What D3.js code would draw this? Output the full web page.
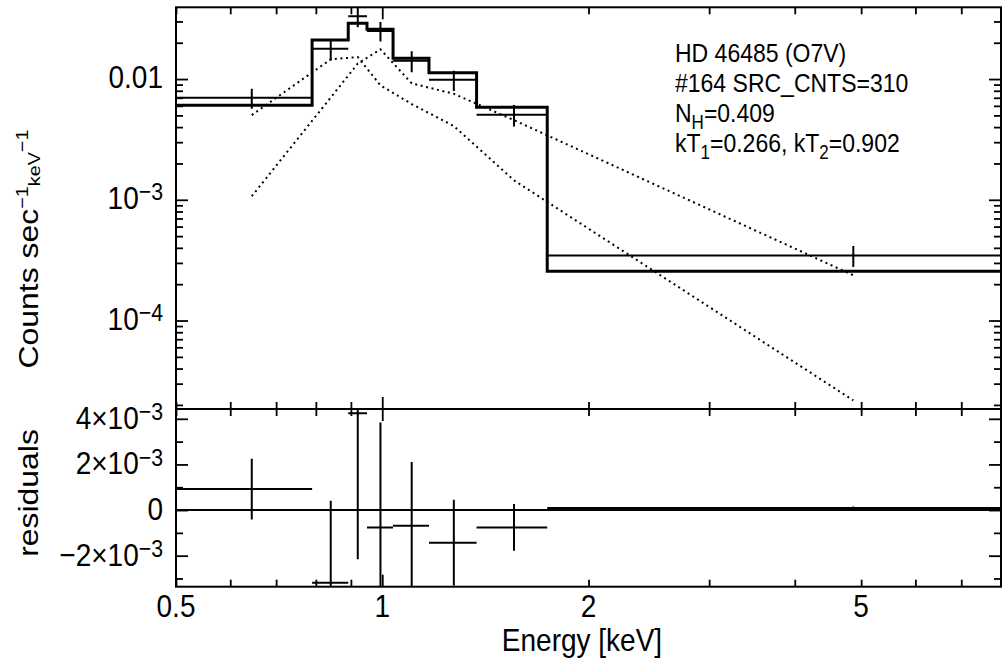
<!DOCTYPE html>
<html>
<head>
<meta charset="utf-8">
<script src="https://cdn.jsdelivr.net/npm/d3@7"></script>
<style>
  body { margin: 0; background: #fff; }
  text { font-family: "Liberation Sans", Arial, sans-serif; fill: #000; }
</style>
</head>
<body>
<div id="chart"></div>
<script>
// spectral bins [keV]
const binLo  = [0.5, 0.79, 0.892, 0.95, 1.037, 1.17, 1.373, 1.741];
const binHi  = [0.79, 0.892, 0.95, 1.037, 1.17, 1.373, 1.741, 8.0];
const binMid = [0.645, 0.841, 0.921, 0.994, 1.104, 1.272, 1.557, 4.87];

// counts sec^-1 keV^-1
const dataRate  = [0.0070, 0.01786, 0.0332, 0.02504, 0.01417, 0.00985, 0.00507, 3.46e-4];
const dataErr   = [1.33e-3, 3.6e-3, 6.4e-3, 4.6e-3, 2.8e-3, 1.88e-3, 1.02e-3, 0.068e-3];
const modelRate = [0.00608, 0.02105, 0.0290, 0.0258, 0.01486, 0.01128, 0.00583, 2.56e-4];
const compCool  = [5.03e-3, 1.457e-2, 1.52e-2, 8.87e-3, 6.21e-3, 4.08e-3, 1.45e-3, 2.18e-5];
const compHot   = [1.071e-3, 7.03e-3, 1.344e-2, 1.763e-2, 9.21e-3, 7.55e-3, 4.57e-3, 2.37e-4];
const resid     = [0.92e-3, -3.19e-3, 4.24e-3, -0.76e-3, -0.69e-3, -1.43e-3, -0.76e-3, 0.09e-3];

// tick labels
const energyLabels = [0.5, 1, 2, 5];
const rateTicks    = [0.01, 1e-3, 1e-4];
const rateText     = ['0.01', '10^−3', '10^−4'];
const residTicks   = [4e-3, 2e-3, 0, -2e-3];
const residText    = ['4×10^−3', '2×10^−3', '0', '−2×10^−3'];

// annotation: [text, level]  level -1 = subscript
const noteLines = [
  [['HD 46485 (O7V)', 0]],
  [['#164 SRC_CNTS=310', 0]],
  [['N', 0], ['H', -1], ['=0.409', 0]],
  [['kT', 0], ['1', -1], ['=0.266, kT', 0], ['2', -1], ['=0.902', 0]]
];

const width = 1002, height = 664;
const L = 176, R = 1001, T = 7.3, MID = 409, B = 586.7;
const STRETCH = 1.14;   // text in the original is a bit tall
const FS = 28;

const x  = d3.scaleLog().domain([0.5, 8.0]).range([L, R]);
const y  = d3.scaleLog().domain([1.85e-5, 0.0393]).range([MID, T]);
const yr = d3.scaleLinear().domain([-3.36e-3, 4.43e-3]).range([B, MID]);

const svg = d3.select('#chart')
  .append('svg')
    .attr('width', width)
    .attr('height', height);

const defs = svg.append('defs');
defs.append('clipPath').attr('id', 'clipTop')
  .append('rect').attr('x', L).attr('y', T).attr('width', R - L).attr('height', MID - T);
defs.append('clipPath').attr('id', 'clipRes')
  .append('rect').attr('x', L).attr('y', MID).attr('width', R - L).attr('height', B - MID);

const upper = svg.append('g').attr('clip-path', 'url(#clipTop)');
const lower = svg.append('g').attr('clip-path', 'url(#clipRes)');

// model components (dotted)
const compLine = d3.line().x((d, i) => x(binMid[i])).y(d => y(d));
[compCool, compHot].forEach(c => {
  upper.append('path')
    .attr('d', compLine(c))
    .attr('fill', 'none')
    .attr('stroke', '#000')
    .attr('stroke-width', 2)
    .attr('stroke-dasharray', '2,3.6');
});

// model step
const stepPts = [];
binLo.forEach((lo, i) => { stepPts.push([lo, modelRate[i]], [binHi[i], modelRate[i]]); });
upper.append('path')
  .attr('d', d3.line().x(d => x(d[0])).y(d => y(d[1]))(stepPts))
  .attr('fill', 'none')
  .attr('stroke', '#000')
  .attr('stroke-width', 3);

// data crosses
const cross = (g, ys, v, e) => {
  binLo.forEach((lo, i) => {
    g.append('line')
      .attr('x1', x(lo)).attr('x2', x(binHi[i]))
      .attr('y1', ys(v[i])).attr('y2', ys(v[i]));
    g.append('line')
      .attr('x1', x(binMid[i])).attr('x2', x(binMid[i]))
      .attr('y1', ys(v[i] - e[i])).attr('y2', ys(v[i] + e[i]));
  });
  g.selectAll('line').attr('stroke', '#000').attr('stroke-width', 2);
};
cross(upper.append('g'), y, dataRate, dataErr);

// residuals: zero model line + crosses
lower.append('line')
  .attr('x1', L).attr('x2', R)
  .attr('y1', yr(0)).attr('y2', yr(0))
  .attr('stroke', '#000').attr('stroke-width', 2);
cross(lower.append('g'), yr, resid, dataErr);

// ticks
const isMajorLog = v => Math.abs(Math.log10(v) - Math.round(Math.log10(v))) < 1e-6;
const isMajorRes = v => Math.abs(Math.round(v * 1e3) % 2) === 0;

const tickSet = (axisFn, scale, vals, pos, isMajor) => {
  [[vals.filter(isMajor), 12], [vals.filter(v => !isMajor(v)), 7]].forEach(([tv, size]) => {
    const g = svg.append('g')
      .attr('transform', pos)
      .call(axisFn(scale).tickValues(tv).tickSize(size).tickFormat(''));
    g.select('.domain').remove();
    g.selectAll('line').attr('stroke', '#000').attr('stroke-width', 1.8);
  });
};

const eTicks = x.ticks();
tickSet(d3.axisBottom, x, eTicks, `translate(0,${T})`, isMajorLog);
tickSet(d3.axisTop, x, eTicks, `translate(0,${MID})`, isMajorLog);
tickSet(d3.axisBottom, x, eTicks, `translate(0,${MID})`, isMajorLog);
tickSet(d3.axisTop, x, eTicks, `translate(0,${B})`, isMajorLog);

const rTicks = y.ticks();
tickSet(d3.axisRight, y, rTicks, `translate(${L},0)`, isMajorLog);
tickSet(d3.axisLeft, y, rTicks, `translate(${R},0)`, isMajorLog);

const resTicks = yr.ticks(8);
tickSet(d3.axisRight, yr, resTicks, `translate(${L},0)`, isMajorRes);
tickSet(d3.axisLeft, yr, resTicks, `translate(${R},0)`, isMajorRes);

// frame
svg.append('rect')
  .attr('x', L).attr('y', T).attr('width', R - L).attr('height', B - T)
  .attr('fill', 'none').attr('stroke', '#000').attr('stroke-width', 2);
svg.append('line')
  .attr('x1', L).attr('x2', R).attr('y1', MID).attr('y2', MID)
  .attr('stroke', '#000').attr('stroke-width', 2);

// text helpers
const addText = (tx, ty, anchor, rot) => svg.append('text')
  .attr('transform', `translate(${tx},${ty}) scale(1,${STRETCH})` + (rot ? ' rotate(-90)' : ''))
  .attr('text-anchor', anchor)
  .attr('font-size', FS);

// parts: [text, sizeFactor, shift(px, + = down)]
const rich = (t, parts) => {
  let cur = 0;
  parts.forEach(([s, f, sh]) => {
    t.append('tspan').attr('dy', sh - cur).attr('font-size', FS * f).text(s);
    cur = sh;
  });
  return t;
};
const supParts = s => {
  const [b, p] = s.split('^');
  return p ? [[b, 1, 0], [p, 0.76, -7.5]] : [[b, 1, 0]];
};

// x tick labels
energyLabels.forEach(v => addText(x(v), 617, 'middle').text(v));

// y tick labels
rateTicks.forEach((v, i) => rich(addText(163, y(v) + 9, 'end'), supParts(rateText[i])));
residTicks.forEach((v, i) => rich(addText(163, yr(v) + 10, 'end'), supParts(residText[i])));

// axis titles
addText(582, 651, 'middle').text('Energy [keV]');
rich(addText(38, 249, 'middle', true),
  [['Counts sec', 1, 0], ['−1', 0.62, -10], ['keV', 0.62, 2], ['−1', 0.62, -10]]);
addText(38, 493, 'middle', true).text('residuals');

// annotation
const noteY = [62, 92, 122, 152];
noteLines.forEach((parts, i) => {
  const t = svg.append('text')
    .attr('transform', `translate(675,${noteY[i]}) scale(1,${STRETCH})`)
    .attr('font-size', 23);
  let cur = 0;
  parts.forEach(([s, lvl]) => {
    const sh = lvl === -1 ? 6 : 0;
    t.append('tspan').attr('dy', sh - cur).attr('font-size', lvl === -1 ? 17 : 23).text(s);
    cur = sh;
  });
});
</script>
</body>
</html>
